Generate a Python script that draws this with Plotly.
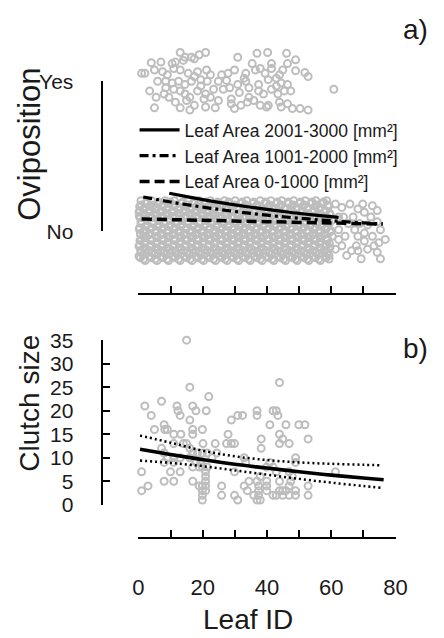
import plotly.graph_objects as go

W, H = 444, 638

# ---------------- Panel a) data ----------------
yes_id = [13.0, 20.9, 36.9, 40.2, 46.1, 16.5, 18.9, 17.4, 14.5, 11.5, 10.5, 14.0, 4.0, 7.0, 30.9, 48.9, 41.4, 35.4, 37.9,
          1.0, 2.0, 5.0, 7.5, 9.0, 11.0, 13.0, 15.5, 18.4, 21.2, 22.4, 25.9, 27.9, 29.9, 32.9, 36.4, 39.4, 41.4, 43.9, 44.9, 48.9, 51.8, 52.8,
          6.0, 8.5, 10.5, 12.5, 14.5, 16.5, 19.4, 21.4, 24.9, 27.4, 30.9, 33.4, 37.4, 40.4, 42.9, 44.4, 46.4, 60.8,
          3.5, 8.0, 9.5, 11.0, 13.0, 14.5, 16.0, 18.4, 20.9, 23.4, 26.4, 28.9, 31.4, 34.4, 37.4, 38.9, 41.4, 43.4, 45.4, 47.4,
          11.5, 15.0, 17.4, 20.4, 20.9, 24.9, 28.9, 31.9, 33.9, 35.9, 37.9, 40.4, 43.9, 44.4, 46.4, 47.9, 50.3, 52.8,
          5.0, 13.0, 23.9, 29.9, 39.9, 16.0,
          8.5, 5.5, 19.4, 28.4, 34.4, 22.4, 17.4, 33.4, 42.9, 46.4]
yes_val = [1.192, 1.192, 1.186, 1.192, 1.186, 1.160, 1.177, 1.150, 1.160, 1.128, 1.118, 1.139, 1.124, 1.128, 1.160, 1.143, 1.118, 1.118, 1.085,
           1.053, 1.053, 1.075, 1.064, 1.043, 1.085, 1.075, 1.053, 1.064, 1.075, 1.043, 1.043, 1.053, 1.075, 1.021, 1.075, 1.053, 1.085, 1.043, 1.075, 1.071, 1.058, 1.032,
           1.000, 1.000, 0.989, 1.000, 0.979, 1.000, 1.011, 1.000, 1.000, 1.006, 0.979, 1.000, 0.979, 1.011, 0.968, 0.989, 0.979, 0.947,
           0.936, 0.915, 0.893, 0.947, 0.936, 0.915, 0.893, 0.936, 0.915, 0.947, 0.947, 0.882, 0.925, 0.893, 0.936, 0.915, 0.947, 0.915, 0.936, 0.936,
           0.861, 0.872, 0.840, 0.882, 0.829, 0.872, 0.850, 0.840, 0.861, 0.872, 0.840, 0.840, 0.861, 0.829, 0.850, 0.818, 0.818, 0.808,
           0.823, 0.823, 0.823, 0.818, 0.829, 0.808,
           0.957, 0.893, 0.968, 0.957, 0.957, 0.893, 1.032, 1.053, 1.021, 1.118]

# Oviposition = No (0) points: dense cloud, listed band by band (band value, leaf IDs in band)
no_band_val = [0.205, 0.1955, 0.186, 0.1765, 0.167, 0.1575, 0.148, 0.1385, 0.129, 0.1195, 0.110, 0.1005,
               0.091, 0.0815, 0.072, 0.0625, 0.053, 0.0435, 0.034, 0.0245, 0.015, 0.0055,
               -0.004, -0.0135, -0.023, -0.0325, -0.042, -0.0515, -0.061, -0.0705, -0.080, -0.0895,
               -0.099, -0.1085, -0.118, -0.1275, -0.137, -0.1465, -0.156, -0.1655, -0.175, -0.1845, -0.194]
no_band_id = [
    [0.8, 4.1, 8.3, 11.2, 15.6, 18.9, 22.4, 26.8, 30.1, 33.7, 37.9, 41.2, 44.6, 48.3, 51.9, 55.2, 58.6],
    [2.6, 6.4, 9.9, 13.8, 17.2, 21.0, 24.7, 28.1, 32.3, 35.9, 39.6, 43.2, 46.6, 50.4, 54.0, 57.6],
    [2.3, 6.0, 9.7, 13.4, 17.1, 20.6, 24.5, 28.2, 31.8, 35.6, 39.4, 42.9, 46.7, 50.2, 53.8, 57.4],
    [0.9, 4.8, 8.1, 11.5, 15.3, 19.0, 22.6, 26.3, 29.9, 33.4, 37.0, 40.8, 44.4, 48.1, 51.6, 55.5, 58.9],
    [0.4, 3.5, 7.2, 10.9, 14.3, 18.1, 21.7, 25.3, 29.4, 32.9, 36.5, 40.6, 44.1, 47.8, 51.2, 55.0, 59.1],
    [2.0, 5.3, 9.1, 12.7, 16.4, 20.0, 23.4, 27.3, 31.0, 34.6, 38.4, 41.9, 45.7, 49.2, 52.8, 56.4],
    [1.6, 5.4, 8.9, 12.6, 16.2, 19.8, 23.6, 27.1, 30.9, 34.4, 38.2, 41.8, 45.5, 49.0, 52.7, 56.3],
    [0.5, 3.7, 7.4, 11.0, 14.7, 18.3, 22.0, 25.6, 29.2, 32.8, 36.4, 40.1, 43.9, 47.4, 51.1, 54.6, 58.2],
    [0.2, 3.0, 6.7, 10.3, 13.9, 17.5, 21.2, 24.8, 28.6, 32.2, 35.8, 39.5, 43.3, 46.9, 50.6, 54.1, 57.9],
    [1.7, 5.1, 8.7, 12.3, 15.9, 19.4, 23.1, 26.9, 30.5, 34.2, 37.7, 41.4, 45.0, 48.7, 52.3, 56.0, 59.5],
    [1.9, 5.6, 9.2, 12.8, 16.6, 20.1, 23.9, 27.5, 31.1, 34.9, 38.6, 42.2, 45.9, 49.5, 53.1, 56.8, 59.7],
    [0.3, 3.4, 7.1, 10.6, 14.2, 17.9, 21.5, 25.0, 28.8, 32.5, 36.0, 39.8, 43.5, 47.1, 50.8, 54.4, 57.9],
    [0.6, 4.3, 7.9, 11.6, 15.2, 18.7, 22.6, 26.2, 29.8, 33.5, 37.2, 40.9, 44.5, 48.1, 51.7, 55.4, 58.9],
    [2.4, 6.0, 9.6, 13.2, 16.8, 20.5, 24.2, 27.7, 31.3, 35.0, 38.6, 42.3, 45.8, 49.6, 53.2, 56.7],
    [2.7, 6.3, 10.0, 13.6, 17.3, 20.9, 24.4, 28.0, 31.6, 35.3, 38.9, 42.6, 46.2, 49.8, 53.5, 57.1],
    [0.8, 4.4, 8.0, 11.7, 15.5, 19.1, 22.7, 26.4, 30.0, 33.7, 37.3, 41.0, 44.7, 48.3, 51.8, 55.6, 59.2],
    [0.9, 4.6, 8.2, 11.9, 15.4, 19.2, 22.8, 26.5, 30.3, 33.9, 37.5, 41.1, 44.8, 48.5, 52.1, 55.7, 59.3],
    [2.7, 6.5, 10.1, 13.5, 17.3, 20.8, 24.6, 28.3, 31.9, 35.4, 39.1, 42.7, 46.4, 50.1, 53.6, 57.3],
    [2.2, 5.9, 9.5, 13.1, 16.9, 20.4, 24.1, 27.8, 31.4, 35.0, 38.7, 42.4, 46.0, 49.7, 53.3, 56.9],
    [0.4, 4.1, 7.7, 11.4, 15.1, 18.6, 22.4, 26.0, 29.7, 33.2, 36.9, 40.6, 44.2, 47.9, 51.4, 55.1, 58.6],
    [0.3, 3.8, 7.5, 11.1, 14.7, 18.4, 22.1, 25.7, 29.3, 32.8, 36.6, 40.2, 43.8, 47.5, 51.0, 54.7, 58.3],
    [1.9, 5.6, 9.3, 12.9, 16.6, 20.2, 23.9, 27.5, 31.2, 34.8, 38.4, 42.0, 45.7, 49.3, 52.9, 56.6, 59.8],
    [1.5, 5.2, 8.8, 12.4, 16.0, 19.6, 23.2, 26.9, 30.6, 34.1, 37.8, 41.5, 45.1, 48.8, 52.4, 56.0, 59.6],
    [0.6, 3.6, 7.2, 10.9, 14.4, 18.0, 21.7, 25.4, 29.0, 32.6, 36.3, 39.9, 43.6, 47.2, 50.9, 54.5, 58.0],
    [0.7, 3.3, 7.0, 10.6, 14.2, 17.8, 21.5, 25.1, 28.8, 32.4, 36.1, 39.7, 43.4, 47.0, 50.7, 54.3, 57.8],
    [2.3, 5.9, 9.6, 13.2, 16.9, 20.5, 24.1, 27.8, 31.4, 35.1, 38.8, 42.4, 46.0, 49.7, 53.4, 57.0],
    [2.0, 5.7, 9.3, 12.9, 16.5, 20.2, 23.8, 27.4, 31.0, 34.7, 38.3, 42.0, 45.6, 49.3, 52.9, 56.5],
    [0.9, 4.2, 7.9, 11.5, 15.2, 18.8, 22.5, 26.1, 29.8, 33.4, 37.1, 40.7, 44.3, 48.0, 51.7, 55.3, 58.9],
    [0.5, 4.0, 7.7, 11.3, 14.9, 18.6, 22.2, 25.9, 29.5, 33.1, 36.8, 40.4, 44.0, 47.7, 51.4, 55.0, 58.7],
    [2.2, 5.8, 9.4, 13.0, 16.7, 20.3, 24.0, 27.6, 31.3, 34.9, 38.5, 42.2, 45.9, 49.5, 53.1, 56.8],
    [1.8, 5.5, 9.0, 12.7, 16.3, 19.9, 23.5, 27.2, 30.8, 34.5, 38.1, 41.7, 45.3, 49.0, 52.6, 56.2, 59.4],
    [0.4, 3.9, 7.5, 11.2, 14.8, 18.4, 22.1, 25.7, 29.4, 33.0, 36.6, 40.3, 43.9, 47.6, 51.2, 54.9, 58.5],
    [0.2, 3.6, 7.3, 10.8, 14.5, 18.2, 21.8, 25.5, 29.1, 32.7, 36.3, 40.0, 43.6, 47.3, 50.9, 54.6, 58.1],
    [1.8, 5.4, 9.0, 12.6, 16.3, 19.9, 23.6, 27.2, 30.8, 34.5, 38.2, 41.8, 45.5, 49.1, 52.7, 56.4, 59.6],
    [2.4, 6.1, 9.8, 13.3, 17.0, 20.7, 24.2, 27.9, 31.5, 35.2, 38.8, 42.5, 46.1, 49.6, 53.2, 56.7],
    [0.7, 3.2, 6.9, 10.5, 14.1, 17.7, 21.4, 25.0, 28.7, 32.3, 35.9, 39.6, 43.2, 46.9, 50.5, 54.2, 57.7],
    [0.9, 4.4, 8.0, 11.7, 15.3, 19.0, 22.7, 26.3, 29.9, 33.6, 37.3, 40.8, 44.4, 48.0, 51.6, 55.3, 58.8],
    [2.5, 6.2, 9.8, 13.4, 17.1, 20.7, 24.3, 28.0, 31.6, 35.3, 38.9, 42.6, 46.2, 49.8, 53.5, 57.1],
    [1.4, 5.0, 8.6, 12.2, 15.8, 19.5, 23.1, 26.7, 30.4, 34.0, 37.6, 41.3, 44.9, 48.6, 52.2, 55.9],
    [0.2, 3.5, 7.1, 10.7, 14.3, 18.0, 21.6, 25.3, 28.9, 32.5, 36.2, 39.8, 43.5, 47.1, 50.8, 54.4, 58.0],
    [0.6, 3.9, 7.6, 11.4, 15.0, 18.5, 22.3, 26.0, 29.6, 33.2, 36.9, 40.5, 44.2, 47.9, 51.5, 55.1, 58.4],
    [1.6, 5.2, 8.9, 12.5, 16.1, 19.7, 23.4, 27.0, 30.7, 34.3, 37.9, 41.6, 45.2, 48.9, 52.5, 56.1, 59.3],
    [2.1, 5.8, 9.4, 13.0, 16.7, 20.3, 24.0, 27.6, 31.2, 34.8, 38.5, 42.1, 45.8, 49.4, 53.0, 56.6],
]
# sparser No points for high leaf IDs
no_tail_id = [59.3, 61.3, 63.3, 65.8, 68.3, 70.3, 72.8, 74.3, 72.3, 65.3,
              66.8, 62.3, 60.3, 62.3, 64.3, 68.3, 70.3, 71.3, 72.8, 74.3,
              75.3, 76.8, 74.8, 63.3, 67.8, 71.3, 64.8, 66.3, 68.3, 74.3,
              69.3, 75.3, 60.3, 61.3, 59.3, 62.3, 70.3, 73.3, 67.3, 68.8,
              63.8, 69.8]
no_tail_val = [0.171, 0.182, 0.160, 0.182, 0.150, 0.128, 0.171, 0.139, 0.096, 0.053,
               0.096, 0.096, 0.075, 0.011, -0.032, -0.032, -0.011, 0.043, -0.032, 0.064,
               0.011, -0.053, -0.075, -0.096, -0.096, -0.118, -0.160, -0.128, -0.128, -0.139,
               -0.182, -0.182, -0.032, -0.118, -0.160, -0.053, -0.064, -0.096, 0.011, 0.053,
               0.096, 0.182]

# fitted oviposition probability curves
fit_large_id = [9.6, 15, 20, 25, 30, 35, 40, 45, 50, 55, 62.3]
fit_large_p = [0.254, 0.232, 0.212, 0.194, 0.177, 0.161, 0.147, 0.133, 0.120, 0.109, 0.094]
fit_mid_id = [1.5, 10, 20, 30, 40, 50, 60, 70, 76]
fit_mid_p = [0.229, 0.196, 0.162, 0.133, 0.108, 0.088, 0.071, 0.057, 0.050]
fit_small_id = [1, 20, 40, 60, 76]
fit_small_p = [0.083, 0.074, 0.065, 0.056, 0.049]

legend_names = ["Leaf Area 2001-3000 [mm²]",
                "Leaf Area 1001-2000 [mm²]",
                "Leaf Area 0-1000 [mm²]"]

# ---------------- Panel b) data ----------------
clutch_id = [15.0, 16.0, 43.9, 21.9, 7.2, 2.0, 12.0, 16.9, 4.0, 12.3,
             13.0, 17.9, 21.1, 16.0, 28.9, 30.9, 32.4, 36.9, 36.9, 41.9,
             42.9, 43.4, 40.9, 45.9, 49.9, 51.8, 5.0, 8.2, 9.0, 8.0,
             11.0, 13.2, 16.9, 16.9, 19.9, 27.9, 43.9, 38.2, 44.9, 52.8,
             11.0, 14.0, 15.0, 20.1, 23.9, 27.4, 28.9, 29.9, 43.9, 46.9,
             7.2, 16.0, 38.2, 8.0, 16.9, 18.4, 19.9, 21.4, 9.0, 11.0,
             13.0, 16.0, 32.9, 48.9, 8.0, 11.0, 17.9, 19.4, 33.4, 40.9,
             48.9, 16.9, 18.9, 19.9, 21.4, 39.9, 41.9, 1.0, 10.0, 13.0,
             20.9, 29.9, 42.9, 46.9, 61.3, 20.9, 37.9, 47.9, 8.0, 11.0,
             16.9, 20.9, 34.4, 36.9, 39.9, 43.9, 47.4, 3.0, 18.9, 19.9,
             20.9, 25.9, 32.9, 37.4, 39.9, 46.9, 52.8, 1.0, 19.9, 20.9,
             33.9, 37.4, 39.9, 43.9, 44.9, 45.9, 48.9, 19.9, 25.9, 29.9,
             35.9, 37.4, 41.9, 42.9, 44.9, 46.9, 48.9, 52.8, 19.9, 30.9,
             36.9, 37.9, 22.9, 24.4]
clutch_val = [35, 25, 26, 23, 22, 21, 21, 21, 19, 20,
              19, 20, 20, 18, 18, 19, 19, 20, 19, 20,
              20, 19, 17, 17, 17, 17, 16, 16, 16, 17,
              15, 15, 16, 15, 16, 15, 15, 14, 14, 14,
              13, 13, 13, 13, 13, 13, 13, 13, 13, 13,
              12, 12, 12, 11, 11, 11, 11, 11, 10, 10,
              10, 10, 10, 10, 9, 9, 9, 9, 9, 9,
              9, 8, 8, 8, 8, 8, 8, 7, 7, 7,
              7, 7, 7, 7, 7, 6, 6, 6, 5, 5,
              5, 5, 5, 5, 5, 5, 5, 4, 4, 4,
              4, 4, 4, 4, 4, 4, 4, 3, 3, 3,
              3, 3, 3, 3, 3, 3, 3, 2, 2, 2,
              2, 2, 2, 2, 2, 2, 2, 2, 1, 1,
              1, 1, 10, 11]

curve_id = [0.5, 10, 20, 30, 40, 50, 60, 70, 76.3]
curve_mean = [11.8, 10.7, 9.6, 8.6, 7.8, 7.0, 6.3, 5.7, 5.3]
ci_id = [0.5, 10, 20, 30, 40, 50, 60, 70, 75.3]
ci_upper = [14.7, 13.2, 11.5, 10.3, 9.5, 9.0, 8.7, 8.5, 8.4]
ci_lower = [9.4, 8.9, 8.2, 7.3, 6.4, 5.5, 4.7, 4.0, 3.6]

# ---------------- ticks ----------------
leaf_ticks = [0, 10, 20, 30, 40, 50, 60, 70, 80]
leaf_ticktext = ["0", " ", "20", " ", "40", " ", "60", " ", "80"]
ovi_ticks = [0, 1]
ovi_ticktext = ["No", "Yes"]
clutch_ticks = [0, 5, 10, 15, 20, 25, 30, 35]
clutch_ticktext = ["0", "5", "10", "15", "20", "25", "30", "35"]

# ---------------- figure ----------------
FONT = "Arial, Liberation Sans, sans-serif"
TXT = "#1a1a1a"
PT = "#bdbdbd"
# R-style gap between the y tick labels and the bracket-shaped axis line (invisible padding)
LABEL_GAP = '<span style="color:rgba(0,0,0,0)">__</span>'


def px_x(p):
    return p / W


def px_y(p):
    return 1 - p / H


no_x = [x for row in no_band_id for x in row] + no_tail_id
no_y = [v for v, row in zip(no_band_val, no_band_id) for _ in row] + no_tail_val

marker = dict(symbol="circle-open", size=7, color=PT, line=dict(width=2.0, color=PT))

fig = go.Figure()
fig.add_trace(go.Scatter(x=no_x, y=no_y, xaxis="x", yaxis="y", mode="markers",
                         marker=marker, showlegend=False, hoverinfo="skip", cliponaxis=False))
fig.add_trace(go.Scatter(x=yes_id, y=yes_val, xaxis="x", yaxis="y", mode="markers",
                         marker=marker, showlegend=False, hoverinfo="skip", cliponaxis=False))
fig.add_trace(go.Scatter(x=fit_large_id, y=fit_large_p, xaxis="x2", yaxis="y2", mode="lines",
                         line=dict(color="black", width=3.2, shape="spline"), name=legend_names[0]))
fig.add_trace(go.Scatter(x=fit_mid_id, y=fit_mid_p, xaxis="x2", yaxis="y2", mode="lines",
                         line=dict(color="black", width=3.2, shape="spline", dash="9px,4px,3px,4px"),
                         name=legend_names[1]))
fig.add_trace(go.Scatter(x=fit_small_id, y=fit_small_p, xaxis="x2", yaxis="y2", mode="lines",
                         line=dict(color="black", width=3.5, shape="spline", dash="10px,5px"),
                         name=legend_names[2]))
fig.add_trace(go.Scatter(x=clutch_id, y=clutch_val, xaxis="x3", yaxis="y3", mode="markers",
                         marker=marker, showlegend=False, hoverinfo="skip", cliponaxis=False))
fig.add_trace(go.Scatter(x=ci_id, y=ci_upper, xaxis="x4", yaxis="y4", mode="lines",
                         line=dict(color="black", width=2.5, shape="spline", dash="2px,3px"), showlegend=False))
fig.add_trace(go.Scatter(x=ci_id, y=ci_lower, xaxis="x4", yaxis="y4", mode="lines",
                         line=dict(color="black", width=2.5, shape="spline", dash="2px,3px"), showlegend=False))
fig.add_trace(go.Scatter(x=curve_id, y=curve_mean, xaxis="x4", yaxis="y4", mode="lines",
                         line=dict(color="black", width=3.6, shape="spline"), showlegend=False))

xdom = [px_x(138), px_x(406)]
xdom_wide = [px_x(101), px_x(406)]
x_wide_min = -80 * (138 - 101) / (406 - 138)

tickfont = dict(family=FONT, size=21, color=TXT)
line_axis = dict(showgrid=False, zeroline=False, showline=True, linecolor="black", linewidth=2,
                 ticks="inside", ticklen=7, tickwidth=2, tickcolor="black", tickfont=tickfont)
hidden = dict(visible=False, showgrid=False, zeroline=False)

fig.update_layout(
    width=W, height=H, autosize=False,
    margin=dict(l=0, r=0, t=0, b=0),
    paper_bgcolor="white", plot_bgcolor="rgba(0,0,0,0)",
    font=dict(family=FONT, color=TXT),
    # panel a: points axes
    xaxis=dict(line_axis, domain=xdom, range=[0, 80], anchor="free", position=px_y(293),
               tickmode="array", tickvals=leaf_ticks, showticklabels=False),
    yaxis=dict(hidden, domain=[px_y(270), px_y(30)],
               range=[-(270 - 228) / 156, 1 + (72 - 30) / 156], anchor="x"),
    # panel a: fitted-line axes (y2 is the bracket axis with No/Yes)
    xaxis2=dict(hidden, domain=xdom_wide, range=[x_wide_min, 80], anchor="y2"),
    yaxis2=dict(line_axis, domain=[px_y(228), px_y(72)], range=[0, 1], anchor="x2",
                tickmode="array", tickvals=ovi_ticks,
                ticktext=[t + LABEL_GAP for t in ovi_ticktext]),
    # panel b: points axes
    xaxis3=dict(line_axis, domain=xdom, range=[0, 80], anchor="free", position=px_y(547),
                tickmode="array", tickvals=leaf_ticks, ticktext=leaf_ticktext,
                tickfont=dict(family=FONT, size=22, color=TXT), ticklabelstandoff=29),
    yaxis3=dict(hidden, domain=[px_y(512), px_y(341)], range=[0, 35], anchor="x3"),
    # panel b: model-curve axes (y4 is the bracket axis with clutch size ticks)
    xaxis4=dict(hidden, domain=xdom_wide, range=[x_wide_min, 80], anchor="y4"),
    yaxis4=dict(line_axis, domain=[px_y(512), px_y(341)], range=[0, 35], anchor="x4",
                tickmode="array", tickvals=clutch_ticks,
                ticktext=[t + LABEL_GAP for t in clutch_ticktext]),
    legend=dict(x=px_x(134), y=px_y(104), xanchor="left", yanchor="top",
                bgcolor="rgba(0,0,0,0)", font=dict(family=FONT, size=17.5, color=TXT),
                itemwidth=40, tracegroupgap=0),
    showlegend=True,
)

anno = dict(xref="paper", yref="paper", showarrow=False, xanchor="center", yanchor="middle")
fig.add_annotation(anno, text="Oviposition", x=px_x(25), y=px_y(137), textangle=-90,
                   font=dict(family=FONT, size=31, color=TXT))
fig.add_annotation(anno, text="Clutch size", x=px_x(25), y=px_y(406), textangle=-90,
                   font=dict(family=FONT, size=28, color=TXT))
fig.add_annotation(anno, text="Leaf ID", x=px_x(252), y=px_y(631),
                   font=dict(family=FONT, size=28, color=TXT))
fig.add_annotation(anno, text="a)", x=px_x(427), y=px_y(18),
                   font=dict(family=FONT, size=28, color=TXT))
fig.add_annotation(anno, text="b)", x=px_x(427), y=px_y(350),
                   font=dict(family=FONT, size=28, color=TXT))

fig.write_html("out.html")
